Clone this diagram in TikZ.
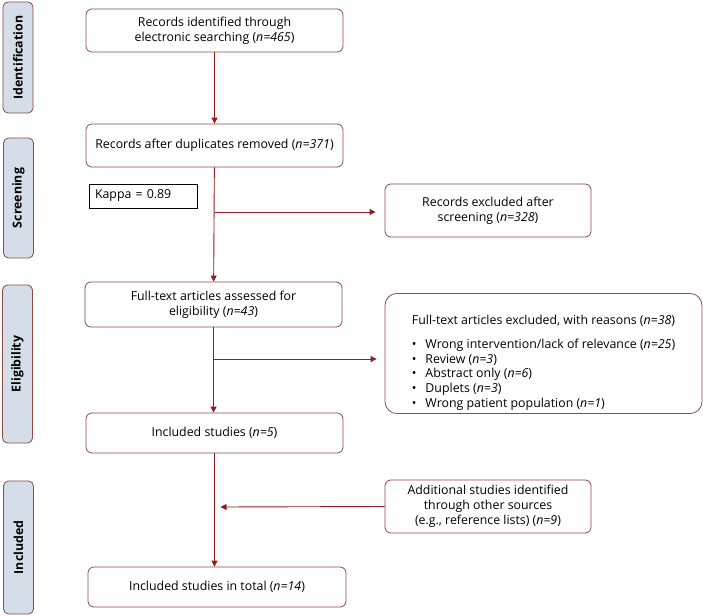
\documentclass[tikz,border=0pt]{standalone}
\usepackage{fontspec}
\setmainfont{Open Sans}
\usetikzlibrary{arrows.meta}
\definecolor{flowred}{HTML}{8E1E24}
\definecolor{boxred}{HTML}{8F4A4A}
\definecolor{phasefill}{HTML}{D5DDE8}
\tikzset{
  stagebox/.style={draw=boxred, line width=0.8bp, rounded corners=6bp, fill=white,
    align=center, inner sep=2bp, font=\fontsize{12.4}{15}\selectfont},
  phase/.style={draw=boxred, line width=0.8bp, rounded corners=5bp, fill=phasefill,
    rotate=90, minimum height=30bp, inner sep=0pt, font=\bfseries\fontsize{12.4}{14}\selectfont},
  flow/.style={draw=flowred, line width=0.9bp, -{Triangle[length=6bp,width=6bp]}},
  flowline/.style={draw=flowred, line width=0.9bp}
}
\newcommand{\nn}[1]{(\textit{n=#1})}
\begin{document}
\begin{tikzpicture}[x=1bp,y=-1bp]
  \useasboundingbox (0,0) rectangle (703,616);

  % phases on the left
  \node[phase, minimum width=111bp] (ident) at (18,57.5) {Identification};
  \node[phase, minimum width=120bp] (screen) at (18.5,198) {Screening};
  \node[phase, minimum width=158bp] (elig) at (17.5,364) {Eligibility};
  \node[phase, minimum width=133bp] (incl) at (18.5,547.5) {Included};

  % main column
  \node[stagebox, minimum width=257bp, minimum height=43bp] (found) at (214.5,30.5)
    {Records identified through\\electronic searching \nn{465}};
  \node[stagebox, minimum width=257bp, minimum height=43bp] (dedup) at (214.5,145.5)
    {Records after duplicates removed \nn{371}};
  \node[stagebox, minimum width=257bp, minimum height=45bp] (fulltext) at (213.5,304.5)
    {Full-text articles assessed for\\eligibility \nn{43}};
  \node[stagebox, minimum width=257bp, minimum height=40bp] (studies) at (214.5,433)
    {Included studies \nn{5}};
  \node[stagebox, minimum width=258bp, minimum height=40bp] (total) at (217,587)
    {Included studies in total \nn{14}};

  \node[draw=black, line width=0.8bp, minimum width=108bp, minimum height=24bp,
    inner sep=0pt, font=\fontsize{12.4}{14}\selectfont, text width=96bp, align=left] (kappa) at (143,196)
    {Kappa = 0.89};

  % right column
  \node[stagebox, minimum width=206bp, minimum height=53bp] (screenout) at (488,210.5)
    {Records excluded after\\screening \nn{328}};
  \node[stagebox, rounded corners=12bp, minimum width=317bp, minimum height=119bp] (reasons) at (543.5,353.5)
    {\rule{0pt}{29bp}Full-text articles excluded, with reasons \nn{38}\\[11bp]
     \renewcommand{\arraystretch}{0.98}%
     \begin{tabular}{@{}l@{\hspace{9bp}}l@{}}
       \textbullet & Wrong intervention/lack of relevance \nn{25}\\
       \textbullet & Review \nn{3}\\
       \textbullet & Abstract only \nn{6}\\
       \textbullet & Duplets \nn{3}\\
       \textbullet & Wrong patient population \nn{1}
     \end{tabular}};
  \node[stagebox, minimum width=206bp, minimum height=53bp] (extra) at (488,506.5)
    {Additional studies identified\\through other sources\\(e.g., reference lists) \nn{9}};

  % connectors
  \coordinate (s1) at (found.south |- 212,212);
  \coordinate (s2) at (fulltext.south |- 359,359);
  \coordinate (s3) at (studies.south |- 507,507);

  \draw[flow] (found) -- (dedup);
  \draw[flow] (dedup) -- (fulltext);
  \draw[flow] (s1) -- ([xshift=-9bp]screenout.west |- s1);
  \draw[flow] (fulltext.south) -- (studies.north -| fulltext.south);
  \draw[flow] (s2) -- ([xshift=-8bp]reasons.west |- s2);
  \draw[flow] (studies.south) -- (total.north -| studies.south);
  \draw[flow] (extra.west) -- ([xshift=6bp]s3);
\end{tikzpicture}
\end{document}
